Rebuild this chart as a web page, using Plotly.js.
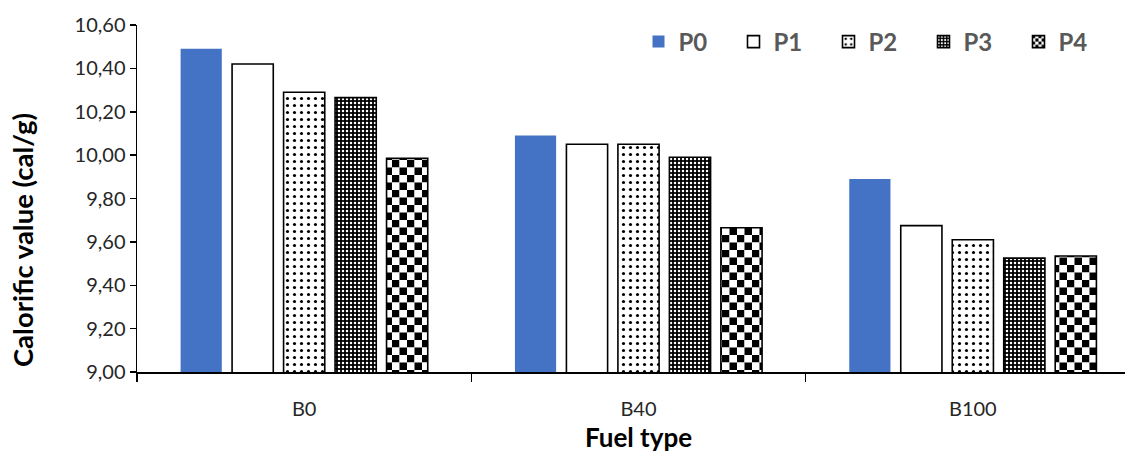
<!DOCTYPE html>
<html><head><meta charset="utf-8">
<script src="https://cdn.plot.ly/plotly-3.0.1.min.js"></script>
<style>html,body{margin:0;padding:0;overflow:hidden;background:#fff}#chart{width:1142px;height:453px}</style>
</head><body><div id="chart"></div>
<script>
const categories = ["B0", "B40", "B100"];
const seriesNames = ["P0", "P1", "P2", "P3", "P4"];
const P0 = [10.49, 10.09, 9.89];
const P1 = [10.42, 10.05, 9.675];
const P2 = [10.29, 10.05, 9.61];
const P3 = [10.265, 9.99, 9.525];
const P4 = [9.985, 9.665, 9.535];
const yTicks = [9.0, 9.2, 9.4, 9.6, 9.8, 10.0, 10.2, 10.4, 10.6];
const xTitle = "Fuel type";
const yTitle = "Calorific value (cal/g)";

const values = [P0, P1, P2, P3, P4];
const CHECK = "#010203";
const markers = [
  {color: "#4472C4", line: {width: 0}},
  {color: "#ffffff", line: {color: "#000", width: 1.6}},
  {color: "#ffffff", line: {color: "#000", width: 1.6},
   pattern: {shape: ".", bgcolor: "#ffffff", fgcolor: "#000000", size: 7, solidity: 0.16}},
  {color: "#000000", line: {color: "#000", width: 1.6},
   pattern: {shape: ".", bgcolor: "#000000", fgcolor: "#ffffff", size: 4, solidity: 0.3}},
  {color: "#ffffff", line: {color: "#000", width: 1.6},
   pattern: {shape: "/", bgcolor: "#ffffff", fgcolor: CHECK, size: 15, solidity: 0.3}}
];

const traces = seriesNames.map((n, i) => ({
  type: "bar", name: n, x: categories, y: values[i], marker: markers[i],
  hoverinfo: "skip"
}));

const layout = {
  width: 1142, height: 453,
  margin: {l: 137, r: 2, t: 25, b: 81},
  paper_bgcolor: "#fff", plot_bgcolor: "#fff",
  barmode: "group", bargap: 0.23, bargroupgap: 0.2,
  separators: ",.",
  font: {family: "Lato, 'Open Sans', sans-serif", color: "#262626"},
  xaxis: {
    type: "category", showline: true, linecolor: "#000", linewidth: 1.5,
    ticks: "outside", tickson: "boundaries", ticklen: 8, tickcolor: "#000", tickwidth: 1.5,
    tickfont: {size: 20, color: "#262626"}, ticklabelstandoff: 18,
    title: {text: "<b>" + xTitle + "</b>", font: {size: 26, color: "#000"}, standoff: 10},
    showgrid: false, zeroline: false
  },
  yaxis: {
    range: [9.0, 10.6], tickvals: yTicks, tickformat: ".2f",
    showline: true, linecolor: "#000", linewidth: 1.5,
    ticks: "outside", ticklen: 6, tickcolor: "#000", tickwidth: 1.5,
    tickfont: {size: 20, color: "#262626"},
    showgrid: false, zeroline: false
  },
  annotations: [{
    text: "<b>" + yTitle + "</b>", textangle: -90, showarrow: false,
    xref: "paper", yref: "paper", x: -0.1147, y: 0.38, xanchor: "center", yanchor: "middle",
    font: {size: 27.5, color: "#000", family: "Lato, sans-serif"}
  }],
  showlegend: true,
  legend: {
    orientation: "h", x: 0.5, xanchor: "left", y: 0.951, yanchor: "middle",
    font: {size: 24, color: "#595959", family: "Lato, sans-serif", weight: "bold"},
    bgcolor: "rgba(0,0,0,0)", entrywidth: 50, entrywidthmode: "pixels",
    traceorder: "normal"
  }
};

function checkerify() {
  const ns = "http://www.w3.org/2000/svg";
  document.querySelectorAll("pattern").forEach(p => {
    const html = p.outerHTML;
    if (html.indexOf("1, 2, 3") < 0 && html.indexOf("#010203") < 0 && html.indexOf("1,2,3") < 0) return;
    const isLegend = p.closest(".legend") !== null || (p.id || "").indexOf("legend") >= 0;
    const s = isLegend ? 3.2 : 7.5;
    p.setAttribute("width", 2 * s);
    p.setAttribute("height", 2 * s);
    p.removeAttribute("patternTransform");
    while (p.firstChild) p.removeChild(p.firstChild);
    const mk = (x, y, c) => {
      const r = document.createElementNS(ns, "rect");
      r.setAttribute("x", x); r.setAttribute("y", y);
      r.setAttribute("width", s); r.setAttribute("height", s);
      r.setAttribute("fill", c);
      p.appendChild(r);
    };
    mk(0, 0, "#000"); mk(s, 0, "#fff"); mk(0, s, "#fff"); mk(s, s, "#000");
  });
}

Plotly.newPlot("chart", traces, layout, {staticPlot: true}).then(checkerify);
</script>
</body></html>
